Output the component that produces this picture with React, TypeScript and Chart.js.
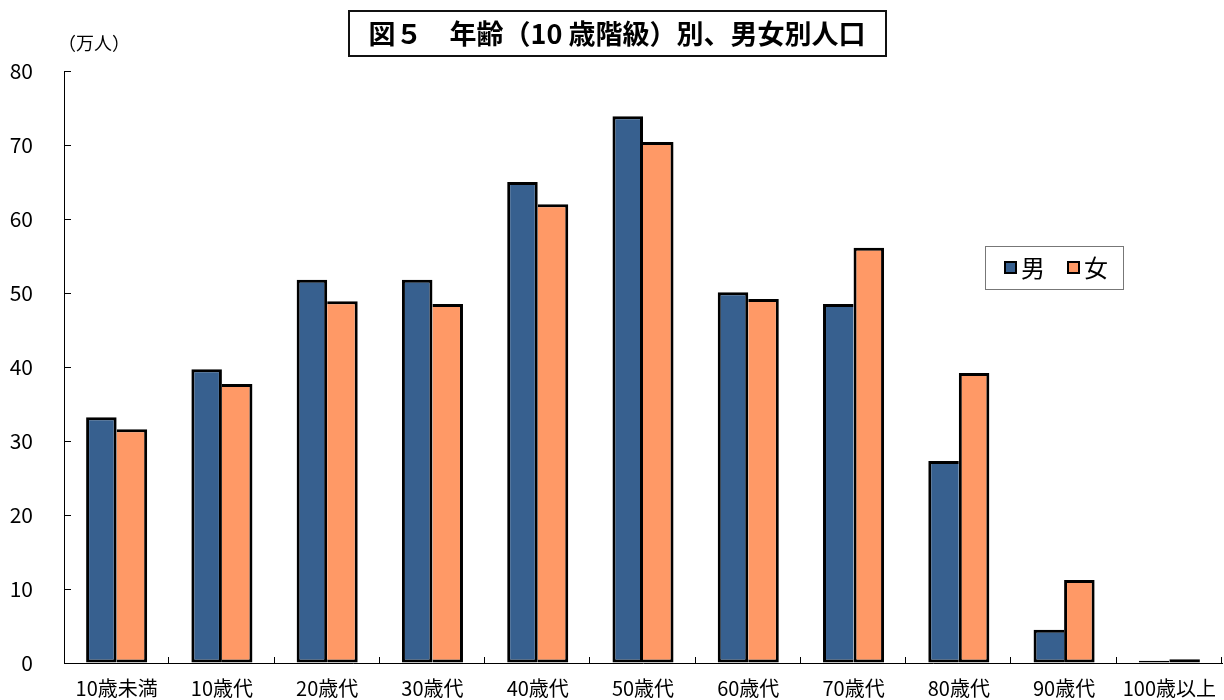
import React, { useEffect, useRef } from "react";
import { Chart, registerables } from "chart.js";

Chart.register(...registerables);

const categories = ["10歳未満", "10歳代", "20歳代", "30歳代", "40歳代", "50歳代", "60歳代", "70歳代", "80歳代", "90歳代", "100歳以上"];
const maleValues = [33.2, 39.7, 51.8, 51.8, 65.0, 73.9, 50.1, 48.5, 27.3, 4.5, 0.3];
const femaleValues = [31.6, 37.7, 48.9, 48.5, 62.0, 70.4, 49.2, 56.1, 39.2, 11.2, 0.5];
const seriesNames = ["男", "女"];
const yMin = 0;
const yMax = 80;
const yStep = 10;
const titleText = "図５　年齢（10 歳階級）別、男女別人口";
const unitLabel = "（万人）";

const FONT = '"Noto Sans CJK JP", "Noto Sans", sans-serif';
const MALE_COLOR = "#37608F";
const FEMALE_COLOR = "#FF9966";

const decorPlugin = {
  id: "decor",
  afterDraw(chart: any) {
    const { ctx, chartArea, scales } = chart;
    const ys = scales.y;
    ctx.save();
    ctx.strokeStyle = "#000";
    ctx.lineWidth = 1;
    for (let v = yMin; v <= yMax; v += yStep) {
      const y = Math.round(ys.getPixelForValue(v)) + 0.5;
      ctx.beginPath();
      ctx.moveTo(chartArea.left, y);
      ctx.lineTo(chartArea.left + 7, y);
      ctx.stroke();
    }
    const n = categories.length;
    const w = (chartArea.right - chartArea.left) / n;
    for (let k = 1; k <= n; k++) {
      const x = Math.round(chartArea.left + k * w) - 0.5;
      ctx.beginPath();
      ctx.moveTo(x, chartArea.bottom);
      ctx.lineTo(x, chartArea.bottom - 6);
      ctx.stroke();
    }
    // title box
    ctx.lineWidth = 2;
    ctx.strokeStyle = "#111";
    ctx.strokeRect(349, 11, 537, 45);
    ctx.fillStyle = "#000";
    ctx.font = `bold 27px ${FONT}`;
    ctx.textAlign = "center";
    ctx.textBaseline = "middle";
    ctx.fillText(titleText, 617, 34);
    // unit label
    ctx.font = `18px ${FONT}`;
    ctx.textAlign = "left";
    ctx.fillText(unitLabel, 58, 43);
    // legend
    ctx.lineWidth = 1;
    ctx.strokeStyle = "#777";
    ctx.fillStyle = "#fff";
    ctx.fillRect(985.5, 246.5, 138, 43);
    ctx.strokeRect(985.5, 246.5, 138, 43);
    const items = [
      { name: seriesNames[0], color: MALE_COLOR, x: 1005 },
      { name: seriesNames[1], color: FEMALE_COLOR, x: 1068 },
    ];
    ctx.font = `24px ${FONT}`;
    ctx.textBaseline = "middle";
    for (const it of items) {
      ctx.fillStyle = it.color;
      ctx.fillRect(it.x, 262, 11, 11);
      ctx.lineWidth = 2;
      ctx.strokeStyle = "#000";
      ctx.strokeRect(it.x, 262, 11, 11);
      ctx.fillStyle = "#000";
      ctx.fillText(it.name, it.x + 16, 268);
    }
    ctx.restore();
  },
};

export default function App() {
  const ref = useRef<HTMLCanvasElement>(null);
  useEffect(() => {
    if (!ref.current) return;
    const chart = new Chart(ref.current, {
      type: "bar",
      data: {
        labels: categories,
        datasets: [
          {
            label: seriesNames[0],
            data: maleValues,
            backgroundColor: MALE_COLOR,
            borderColor: "#000",
            borderWidth: 3,
            borderSkipped: (c: any) => (maleValues[c.dataIndex] < femaleValues[c.dataIndex] ? "right" : false),
            categoryPercentage: 0.58,
            barPercentage: 1.0,
          },
          {
            label: seriesNames[1],
            data: femaleValues,
            backgroundColor: FEMALE_COLOR,
            borderColor: "#000",
            borderWidth: 3,
            borderSkipped: (c: any) => (femaleValues[c.dataIndex] <= maleValues[c.dataIndex] ? "left" : false),
            categoryPercentage: 0.58,
            barPercentage: 1.0,
          },
        ],
      },
      options: {
        animation: false,
        responsive: false,
        maintainAspectRatio: false,
        layout: { padding: { top: 71, right: 2, left: 0, bottom: 0 } },
        plugins: {
          legend: { display: false },
          title: { display: false },
          tooltip: { enabled: false },
        },
        scales: {
          x: {
            grid: { display: true, color: "rgba(0,0,0,0)", drawTicks: false },
            border: { display: true, color: "#000", width: 1 },
            ticks: {
              color: "#000",
              font: { family: FONT, size: 20 },
              padding: 13,
              maxRotation: 0,
              autoSkip: false,
            },
            afterFit: (s: any) => {
              s.height = 37;
              s.paddingLeft = 0;
              s.paddingRight = 0;
              s.paddingTop = 0;
              s.paddingBottom = 0;
            },
          },
          y: {
            min: yMin,
            max: yMax,
            grid: { display: true, color: "rgba(0,0,0,0)", drawTicks: false },
            border: { display: true, color: "#000", width: 1 },
            ticks: {
              stepSize: yStep,
              color: "#000",
              font: { family: FONT, size: 21 },
              padding: 31,
            },
            afterFit: (s: any) => {
              s.width = 64;
              s.paddingLeft = 0;
              s.paddingRight = 0;
              s.paddingTop = 0;
              s.paddingBottom = 0;
            },
          },
        },
      },
      plugins: [decorPlugin],
    });
    return () => chart.destroy();
  }, []);
  return (
    <div style={{ position: "fixed", left: 0, top: 0, width: 1224, height: 700, background: "#fff" }}>
      <canvas ref={ref} width={1224} height={700} style={{ width: 1224, height: 700, display: "block" }} />
    </div>
  );
}
